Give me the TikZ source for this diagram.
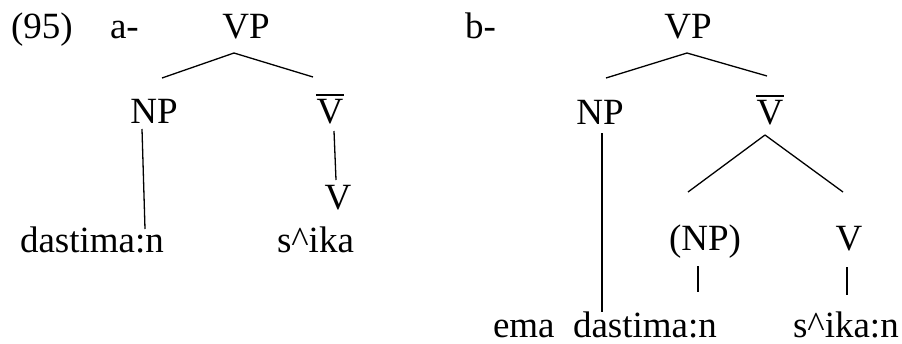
\documentclass[tikz,border=0pt]{standalone}
\usepackage{fontspec}
\setmainfont{Liberation Serif}
\usetikzlibrary{calc}
\newcommand{\barV}{\leavevmode\rlap{\kern-0.02em\rule[0.73em]{0.76em}{0.055em}}V}
\tikzset{
  lbl/.style={inner sep=0pt, outer sep=0pt, font=\fontsize{37}{44}\selectfont},
  branch/.style={line width=1.3pt}
}
\begin{document}
\begin{tikzpicture}[x=1pt,y=-1pt]
\useasboundingbox (0,0) rectangle (902,343);
% ---- (a) ----
\node[lbl, anchor=base west] (n95) at (11,38) {(95)};
\node[lbl, anchor=base west] (la) at (110,38) {a-};
\node[lbl, anchor=base] (vpa) at (246,38) {VP};
\node[lbl, anchor=base] (npa) at (154,123) {NP};
\node[lbl, anchor=base] (vba) at (330,123) {\barV};
\node[lbl, anchor=base] (va) at (338,209) {V};
\node[lbl, anchor=base west] (dasta) at (20,252) {dastima:n};
\node[lbl, anchor=base west] (sika) at (277,252) {s\textasciicircum ika};
\draw[branch] ($(vpa.base)+(-12,15)$) -- ($(npa.base)+(8,-45)$);
\draw[branch] ($(vpa.base)+(-12,15)$) -- ($(vba.base)+(-17,-46)$);
\draw[branch] ($(npa.base)+(-12,6)$) -- ($(dasta.base west)+(125,-23)$);
\draw[branch] ($(vba.base)+(4,8)$) -- ($(va.base)+(-2,-29)$);
% ---- (b) ----
\node[lbl, anchor=base west] (lb) at (465,38) {b-};
\node[lbl, anchor=base] (vpb) at (688,38) {VP};
\node[lbl, anchor=base] (npb) at (600,124) {NP};
\node[lbl, anchor=base] (vbb) at (770,124) {\barV};
\node[lbl, anchor=base] (npp) at (705,250) {(NP)};
\node[lbl, anchor=base] (vb) at (849,250) {V};
\node[lbl, anchor=base west] (ema) at (493,337) {ema};
\node[lbl, anchor=base west] (dastb) at (573,337) {dastima:n};
\node[lbl, anchor=base west] (sikb) at (793,337) {s\textasciicircum ika:n};
\draw[branch] ($(vpb.base)+(-1,15)$) -- ($(npb.base)+(6,-46)$);
\draw[branch] ($(vpb.base)+(-1,15)$) -- ($(vbb.base)+(-3,-48)$);
\draw[branch] ($(npb.base)+(2,9)$) -- ($(dastb.base west)+(29,-25)$);
\draw[branch] ($(vbb.base)+(-5,11)$) -- ($(npp.base)+(-17,-58)$);
\draw[branch] ($(vbb.base)+(-5,11)$) -- ($(vb.base)+(-6,-58)$);
\draw[branch] ($(npp.base)+(-7,16)$) -- ($(npp.base)+(-7,42)$);
\draw[branch] ($(vb.base)+(-2,17)$) -- ($(vb.base)+(-2,45)$);
\end{tikzpicture}
\end{document}
